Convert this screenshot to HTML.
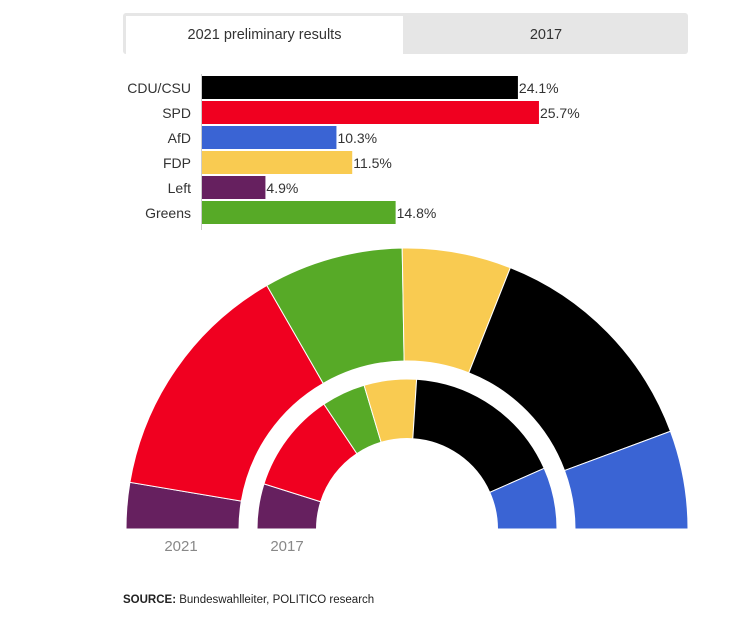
<!DOCTYPE html>
<html><head><meta charset="utf-8"><style>
body{margin:0;background:#fff;font-family:"Liberation Sans",sans-serif;}
</style></head><body>
<svg width="748" height="613" viewBox="0 0 748 613" xmlns="http://www.w3.org/2000/svg">
<rect x="123" y="13" width="565" height="41" fill="#e6e6e6" rx="3"/>
<g><rect x="126" y="16" width="277" height="38" fill="#fff"/>
<text x="264.5" y="39" font-size="14.5" fill="#333" text-anchor="middle">2021 preliminary results</text></g>
<g><text x="546" y="39" font-size="14.5" fill="#333" text-anchor="middle">2017</text></g>
<line x1="201.5" y1="74" x2="201.5" y2="230" stroke="#ccc"/>
<g id="bars"></g>
<g id="arcs"></g>
<text x="181" y="551" font-size="15" fill="#888" text-anchor="middle">2021</text>
<text x="287" y="551" font-size="15" fill="#888" text-anchor="middle">2017</text>
<text x="123" y="603" font-size="11.5" fill="#222"><tspan font-weight="bold">SOURCE:</tspan> Bundeswahlleiter, POLITICO research</text>
</svg>
<script>
const barParties=["CDU/CSU","SPD","AfD","FDP","Left","Greens"];
const barValues=[24.1,25.7,10.3,11.5,4.9,14.8];
const barColors=["#000000","#f00020","#3a64d4","#f9cb51","#66205f","#57aa27"];
const arcParties=["Left","SPD","Greens","FDP","CDU/CSU","AfD"];
const seats2021=[39,206,118,92,196,83];
const seats2017=[69,153,67,80,246,94];
const arcColors=["#66205f","#f00020","#57aa27","#f9cb51","#000000","#3a64d4"];
const NS="http://www.w3.org/2000/svg";
const xs=v=>201+v*13.15;
const bars=document.getElementById('bars');
barParties.forEach((p,i)=>{
  const y=76+i*25;
  const r=document.createElementNS(NS,'rect');
  r.setAttribute('x',202);r.setAttribute('y',y);r.setAttribute('width',xs(barValues[i])-202);r.setAttribute('height',23);r.setAttribute('fill',barColors[i]);
  
  
  bars.appendChild(r);
  const l=document.createElementNS(NS,'text');
  l.setAttribute('x',191);l.setAttribute('y',y+17);l.setAttribute('text-anchor','end');l.setAttribute('font-size','14');l.setAttribute('fill','#333');l.textContent=p;
  
  
  bars.appendChild(l);
  const v=document.createElementNS(NS,'text');
  v.setAttribute('x',xs(barValues[i])+1);v.setAttribute('y',y+17);v.setAttribute('font-size','14');v.setAttribute('fill','#333');v.textContent=barValues[i]+'%';
  
  
  bars.appendChild(v);
});
const cx=407,cy=529;
function ring(vals,r0,r1,tag){
  const tot=vals.reduce((a,b)=>a+b,0);let acc=0;
  const g=document.getElementById('arcs');
  vals.forEach((v,i)=>{
    const a0=Math.PI*(1-acc/tot);acc+=v;const a1=Math.PI*(1-acc/tot);
    const P=(r,a)=>[(cx+r*Math.cos(a)).toFixed(2),(cy-r*Math.sin(a)).toFixed(2)];
    const [x0,y0]=P(r1,a0),[x1,y1]=P(r1,a1),[x2,y2]=P(r0,a1),[x3,y3]=P(r0,a0);
    const d=`M${x0},${y0} A${r1},${r1} 0 0 1 ${x1},${y1} L${x2},${y2} A${r0},${r0} 0 0 0 ${x3},${y3} Z`;
    const p=document.createElementNS(NS,'path');
    p.setAttribute('d',d);p.setAttribute('fill',arcColors[i]);p.setAttribute('stroke','#fff');p.setAttribute('stroke-width','1');
    
    
    g.appendChild(p);
  });
}
ring(seats2021,168,281,'2021');
ring(seats2017,90.5,150,'2017');
</script>
</body></html>
